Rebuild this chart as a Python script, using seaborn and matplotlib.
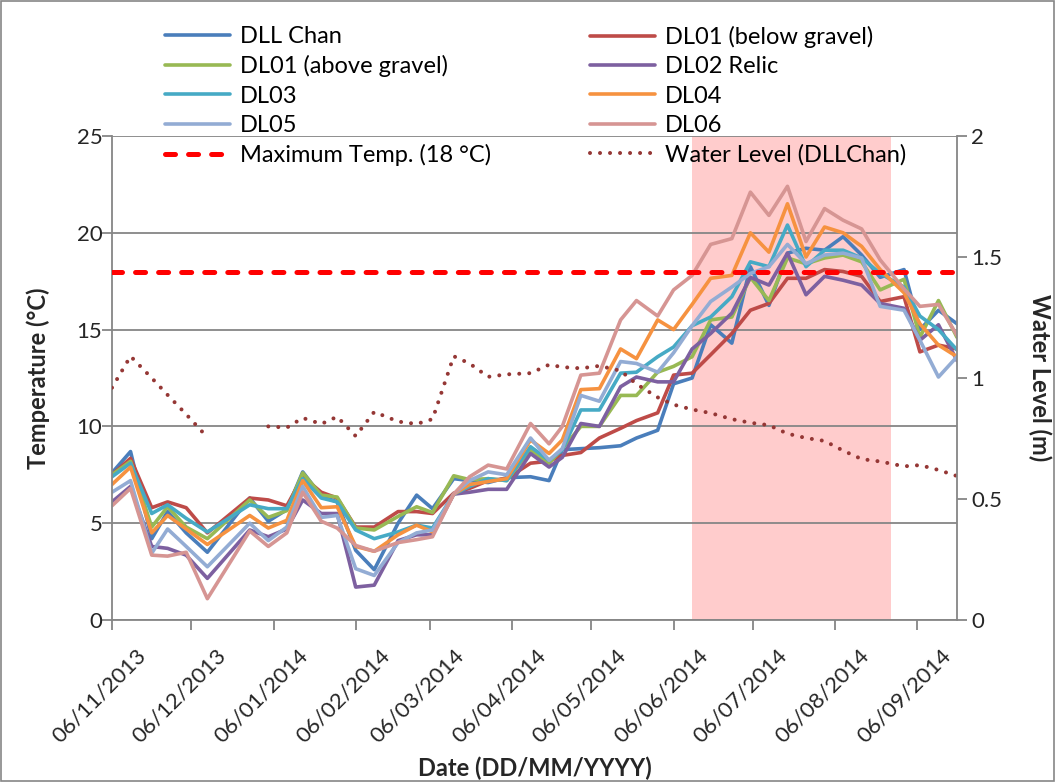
import numpy as np
import pandas as pd
import matplotlib
matplotlib.use("Agg")
import matplotlib.pyplot as plt
import matplotlib.dates as mdates
import matplotlib.transforms as mtransforms
from matplotlib.lines import Line2D
from matplotlib.patches import Rectangle
import seaborn as sns

# ---- data -------------------------------------------------------------
dates = [
    "2013-11-06", "2013-11-13", "2013-11-21", "2013-11-27", "2013-12-04",
    "2013-12-12", "2013-12-28", "2014-01-04", "2014-01-11", "2014-01-17",
    "2014-01-24", "2014-01-30", "2014-02-06", "2014-02-13", "2014-02-22",
    "2014-03-01", "2014-03-07", "2014-03-15", "2014-03-21", "2014-03-28",
    "2014-04-04", "2014-04-13", "2014-04-20", "2014-04-25", "2014-05-02",
    "2014-05-09", "2014-05-17", "2014-05-23", "2014-05-31", "2014-06-06",
    "2014-06-13", "2014-06-20", "2014-06-28", "2014-07-05", "2014-07-12",
    "2014-07-19", "2014-07-26", "2014-08-02", "2014-08-09", "2014-08-16",
    "2014-08-23", "2014-09-01", "2014-09-07", "2014-09-14", "2014-09-21",
]

dll_chan = [7.6, 8.7, 4.2, 5.6, 4.5, 3.5, 6.3, 5.1, 5.7, 7.65, 6.4, 6.1, 3.6, 2.6, 5.0,
            6.45, 5.75, 7.3, 7.2, 7.1, 7.35, 7.4, 7.2, 8.8, 8.85, 8.9, 9.0, 9.4, 9.8, 12.2,
            12.5, 15.25, 14.3, 18.25, 16.25, 18.95, 19.2, 19.1, 19.8, 18.85, 17.7, 18.1,
            15.0, 16.0, 15.3]
dl01_below = [7.5, 8.35, 5.8, 6.1, 5.8, 4.5, 6.3, 6.2, 5.9, 7.4, 6.6, 6.3, 4.8, 4.8, 5.6,
              5.6, 5.5, 6.55, 6.8, 7.2, 7.3, 8.1, 8.2, 8.5, 8.65, 9.4, 9.9, 10.3, 10.7, 12.65,
              12.75, 13.7, 14.8, 16.0, 16.35, 17.65, 17.65, 18.1, 18.0, 17.75, 16.45, 16.7,
              13.85, 14.2, 14.0]
dl01_above = [7.5, 8.2, 4.8, 5.85, 4.8, 4.2, 6.2, 5.3, 5.65, 7.6, 6.45, 6.35, 4.75, 4.65, 5.35,
              5.85, 5.55, 7.45, 7.25, 7.3, 7.2, 8.8, 8.1, 8.85, 10.0, 10.0, 11.6, 11.6, 12.8, 13.1,
              13.6, 15.5, 15.65, 17.7, 16.5, 18.7, 18.4, 18.7, 18.85, 18.5, 17.05, 17.6,
              14.6, 16.5, 14.6]
dl02_relic = [6.1, 6.9, 3.8, 3.7, 3.35, 2.15, 4.65, 4.3, 4.7, 6.2, 5.5, 5.5, 1.7, 1.8, 4.1,
              4.4, 4.4, 6.5, 6.6, 6.75, 6.75, 8.6, 7.9, 8.4, 10.15, 10.0, 12.05, 12.55, 12.3, 12.3,
              14.0, 14.8, 15.85, 17.7, 17.3, 18.95, 16.8, 17.75, 17.55, 17.3, 16.35, 16.1,
              14.45, 15.25, 13.4]
dl03 = [7.4, 8.1, 5.5, 5.95, 5.25, 4.55, 5.95, 5.75, 5.75, 7.3, 6.3, 6.1, 4.65, 4.2, 4.55,
        4.9, 4.75, 6.5, 6.9, 7.3, 7.2, 8.95, 8.25, 8.8, 10.85, 10.85, 12.75, 12.8, 13.6, 14.1,
        15.2, 15.65, 16.7, 18.5, 18.25, 20.4, 18.25, 19.1, 19.1, 18.7, 17.9, 17.2,
        15.7, 15.0, 13.95]
dl04 = [7.0, 7.9, 4.5, 5.4, 4.7, 3.9, 5.4, 4.75, 5.15, 7.2, 5.8, 5.85, 3.8, 3.55, 4.4,
        4.9, 4.55, 6.5, 7.0, 7.15, 7.3, 9.3, 8.6, 9.3, 11.9, 11.95, 14.0, 13.5, 15.5, 15.0,
        16.3, 17.65, 17.8, 20.0, 19.0, 21.5, 18.75, 20.3, 20.0, 19.3, 18.1, 16.9,
        15.3, 14.2, 13.6]
dl05 = [6.6, 7.2, 3.45, 4.7, 3.8, 2.75, 5.0, 4.1, 4.8, 6.9, 5.3, 5.4, 2.65, 2.3, 4.0,
        4.5, 4.65, 6.5, 7.2, 7.65, 7.5, 9.4, 8.25, 8.85, 11.6, 11.3, 13.35, 13.25, 12.8, 13.8,
        15.2, 16.45, 17.2, 17.9, 18.25, 19.4, 18.4, 18.85, 18.95, 18.7, 16.2, 16.0,
        14.45, 12.55, 13.6]
dl06 = [5.9, 6.8, 3.35, 3.3, 3.5, 1.1, 4.6, 3.8, 4.5, 6.6, 5.1, 4.75, 3.85, 3.55, 4.0,
        4.15, 4.3, 6.5, 7.4, 8.0, 7.8, 10.15, 9.1, 10.0, 12.65, 12.75, 15.5, 16.5, 15.7, 17.05,
        17.8, 19.4, 19.7, 22.1, 20.9, 22.4, 19.55, 21.25, 20.65, 20.2, 18.6, 17.1,
        16.2, 16.3, 14.7]

# water level (m); NaN marks the logger gap over the holidays
water_level = [0.96, 1.09, 1.0, 0.93, 0.85, 0.755, np.nan, 0.8, 0.795, 0.835, 0.81, 0.84,
               0.76, 0.86, 0.82, 0.81, 0.83, 1.09, 1.06, 1.005, 1.015, 1.02, 1.055, 1.045,
               1.04, 1.05, 1.03, 0.975, 0.92, 0.89, 0.87, 0.855, 0.83, 0.815, 0.805, 0.77,
               0.752, 0.74, 0.70, 0.665, 0.655, 0.635, 0.64, 0.62, 0.595]

max_temp = 18.0
shade_start, shade_end = "2014-06-13", "2014-08-27"

sites = ["DLL Chan", "DL01 (below gravel)", "DL01 (above gravel)", "DL02 Relic",
         "DL03", "DL04", "DL05", "DL06"]
site_values = [dll_chan, dl01_below, dl01_above, dl02_relic, dl03, dl04, dl05, dl06]
site_colors = ["#4A7EBB", "#BE4B48", "#98B954", "#7D60A0",
               "#46AAC5", "#F69240", "#93ACD4", "#D69593"]
palette = dict(zip(sites, site_colors))
wl_color = "#953735"
max_color = "#FF0000"
shade_color = "#FFCCCC"
axis_gray = "#868686"

# ---- style ------------------------------------------------------------
sns.set_theme(style="white")
plt.rcParams["font.family"] = ["Lato", "DejaVu Sans"]
plt.rcParams["lines.scale_dashes"] = False

W, H = 1055, 782
fig = plt.figure(figsize=(W / 100, H / 100), dpi=100)
ax = fig.add_axes([112 / W, 1 - 620 / H, (957 - 112) / W, (620 - 136) / H])

date_index = pd.to_datetime(dates)
temp_df = pd.DataFrame({"date": date_index})
for name, vals in zip(sites, site_values):
    temp_df[name] = vals
temp_long = temp_df.melt(id_vars="date", var_name="site", value_name="temp")

# summer window
ax.axvspan(pd.Timestamp(shade_start), pd.Timestamp(shade_end),
           color=shade_color, lw=0, zorder=0.5)

sns.lineplot(data=temp_long, x="date", y="temp", hue="site", hue_order=sites,
             palette=palette, estimator=None, lw=2.6, legend=False, ax=ax, zorder=2)

ax.axhline(max_temp, color=max_color, lw=3.6, ls=(0, (7.2, 9.4)),
           dash_capstyle="round", zorder=4)

ax.set_xlim(date_index[0], date_index[-1])
ax.set_ylim(0, 25)
ax.set_yticks(range(0, 26, 5))
ax.yaxis.grid(True, color=axis_gray, lw=1.3, zorder=1)
ax.set_axisbelow("line")

ax.xaxis.set_major_locator(mdates.MonthLocator(bymonthday=6))
ax.xaxis.set_major_formatter(mdates.DateFormatter("%d/%m/%Y"))

ax.tick_params(axis="both", direction="out", length=7, width=1.3,
               color=axis_gray, labelsize=16, bottom=True, left=True)
ax.tick_params(axis="y", pad=0)
ax.tick_params(axis="x", pad=4)
ax.set_xticks(ax.get_xticks())
plt.setp(ax.get_xticklabels(), rotation=45, ha="right", rotation_mode="anchor")
shift = mtransforms.ScaledTranslation(24 / 100, -10 / 100, fig.dpi_scale_trans)
for lbl in ax.get_xticklabels():
    lbl.set_transform(lbl.get_transform() + shift)

for side in ["left", "bottom"]:
    ax.spines[side].set_color(axis_gray)
    ax.spines[side].set_linewidth(1.3)
ax.spines["top"].set_visible(False)
ax.spines["right"].set_visible(False)

ax.set_xlabel("Date (DD/MM/YYYY)", fontsize=17, fontweight="bold")
ax.xaxis.set_label_coords(0.5, 1 - (768 - 136) / (620 - 136))
ax.xaxis.label.set_verticalalignment("center")
ax.set_ylabel("Temperature (°C)", fontsize=17, fontweight="bold")
ax.yaxis.set_label_coords((38 - 112) / (957 - 112), 0.5)
ax.yaxis.label.set_verticalalignment("center")

# water level on secondary axis
ax2 = ax.twinx()
wl_df = pd.DataFrame({"date": date_index, "level": water_level})
wl_df["segment"] = wl_df["level"].isna().cumsum()
wl_df = wl_df.dropna()
sns.lineplot(data=wl_df, x="date", y="level", units="segment", estimator=None,
             color=wl_color, lw=2.9, ls=(0, (0.01, 7.2)), dash_capstyle="round",
             legend=False, ax=ax2)
ax2.set_ylim(0, 2)
ax2.set_yticks([0, 0.5, 1, 1.5, 2])
ax2.set_yticklabels(["0", "0.5", "1", "1.5", "2"])
ax2.set_xlim(date_index[0], date_index[-1])
ax2.tick_params(axis="y", direction="out", length=7, width=1.3, color=axis_gray,
                labelsize=16, pad=3, right=True)
for side in ["top", "left", "bottom"]:
    ax2.spines[side].set_visible(False)
ax2.spines["right"].set_color(axis_gray)
ax2.spines["right"].set_linewidth(1.3)
ax2.set_ylabel("Water Level (m)", fontsize=17, fontweight="bold", rotation=270)
ax2.yaxis.set_label_coords((1040 - 112) / (957 - 112), 0.5)
ax2.yaxis.label.set_verticalalignment("center")
ax2.set_xlabel("")

# ---- legend -----------------------------------------------------------
def series_handle(color):
    return Line2D([], [], color=color, lw=2.6)

max_handle = Line2D([], [], color=max_color, lw=3.6, ls=(0, (7.2, 9.4)),
                    dash_capstyle="round")
wl_handle = Line2D([], [], color=wl_color, lw=2.9, ls=(0, (0.01, 7.2)),
                   dash_capstyle="round")

left_names = [sites[0], sites[2], sites[4], sites[6]]
right_names = [sites[1], sites[3], sites[5], sites[7]]
left_handles = [series_handle(palette[n]) for n in left_names] + [max_handle]
right_handles = [series_handle(palette[n]) for n in right_names] + [wl_handle]
left_labels = left_names + ["Maximum Temp. (18 °C)"]
right_labels = right_names + ["Water Level (DLLChan)"]

common = dict(loc="upper left", frameon=False, fontsize=17, handlelength=2.75,
              handletextpad=0.42, labelspacing=0.35, borderpad=0, borderaxespad=0)
leg1 = fig.legend(left_handles, left_labels, bbox_to_anchor=(165 / W, 1 - 26 / H), **common)
leg2 = fig.legend(right_handles, right_labels, bbox_to_anchor=(590 / W, 1 - 26 / H), **common)
for leg in (leg1, leg2):
    for t in leg.get_texts():
        t.set_color("black")

fig.patches.append(Rectangle((0.001, 0.001), 0.998, 0.998, transform=fig.transFigure,
                             fill=False, edgecolor=axis_gray, lw=1.2))

fig.savefig("out.png", dpi=100)
